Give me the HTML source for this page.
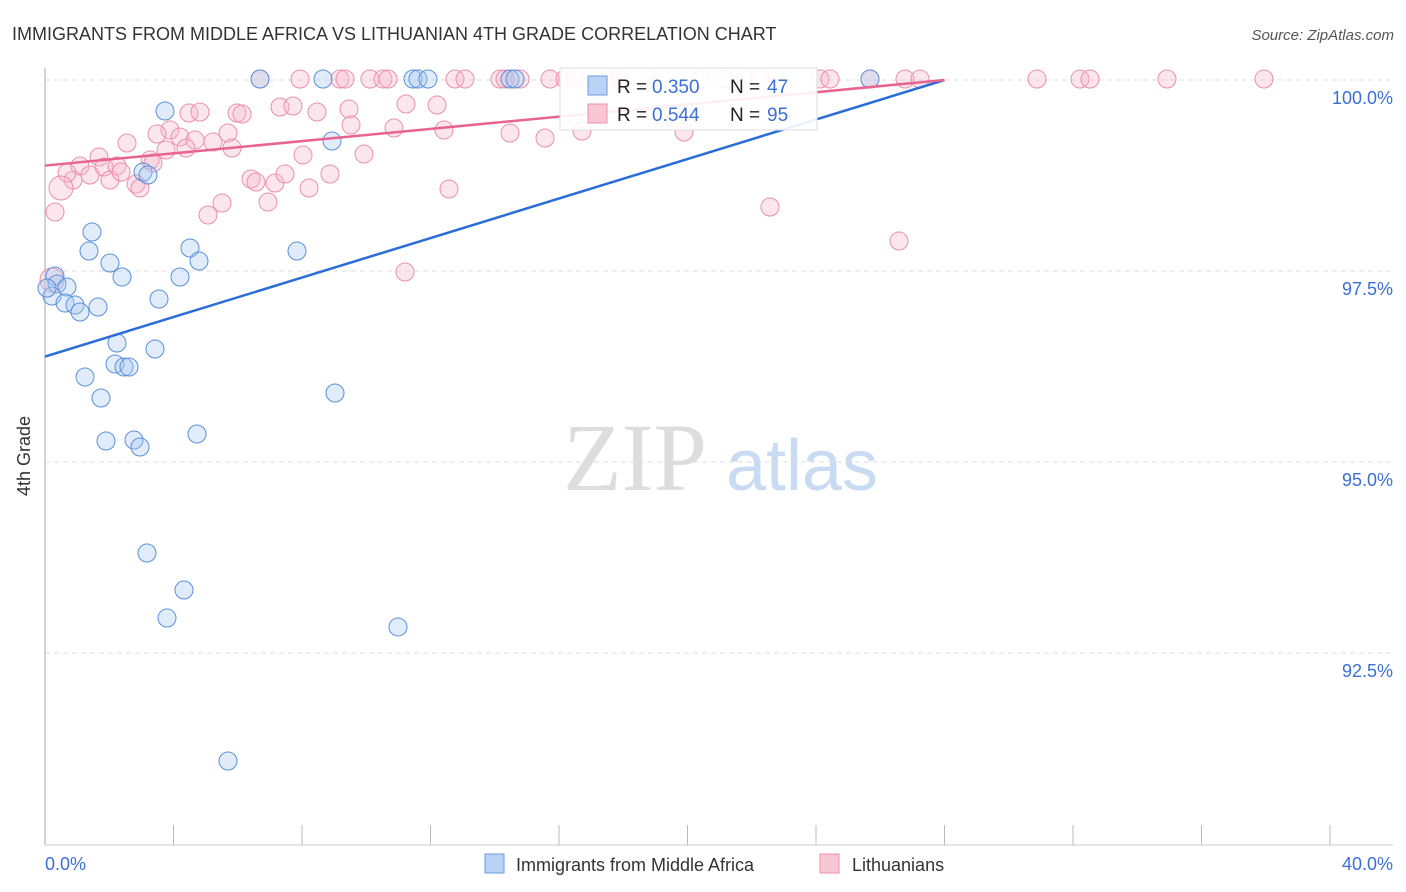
<!DOCTYPE html>
<html><head><meta charset="utf-8"><style>
body{margin:0;background:#fff;font-family:"Liberation Sans",sans-serif;}
svg{display:block}
</style></head><body>
<svg id="chart" width="1406" height="892">
<text x="12" y="40" font-size="18" fill="#333">IMMIGRANTS FROM MIDDLE AFRICA VS LITHUANIAN 4TH GRADE CORRELATION CHART</text>
<text x="1394" y="40" font-size="15" fill="#555" font-style="italic" text-anchor="end">Source: ZipAtlas.com</text>
<g>
<text x="635" y="490" font-size="96" fill="#ddd" font-family="Liberation Serif,serif" text-anchor="middle">ZIP</text>
<text x="802" y="490" font-size="72" fill="#c9dbf3" text-anchor="middle">atlas</text>
</g>
<g id="grid"></g>
<line x1="45" y1="68" x2="45" y2="845" stroke="#aaa"/>
<line x1="45" y1="845" x2="1393" y2="845" stroke="#ccc"/>
<text x="30" y="456" font-size="18" fill="#333" transform="rotate(-90 30 456)" text-anchor="middle">4th Grade</text>
<text x="45" y="870" font-size="18" fill="#3b6fd4">0.0%</text>
<text x="1393" y="870" font-size="18" fill="#3b6fd4" text-anchor="end">40.0%</text>
<g id="pts"></g>
<g id="lines"></g>
<g>
<rect x="560" y="68" width="257" height="62" fill="#fff" fill-opacity="0.9" stroke="#ddd"/>
<rect x="588" y="76" width="19" height="19" fill="#b9d2f5" stroke="#6a9de0"/>
<rect x="588" y="104" width="19" height="19" fill="#f9c6d6" stroke="#ec8fad"/>
<text y="93" font-size="19" fill="#222"><tspan x="617">R =</tspan><tspan x="652" fill="#3b6fd4">0.350</tspan><tspan x="730">N =</tspan><tspan x="767" fill="#3b6fd4">47</tspan></text>
<text y="121" font-size="19" fill="#222"><tspan x="617">R =</tspan><tspan x="652" fill="#3b6fd4">0.544</tspan><tspan x="730">N =</tspan><tspan x="767" fill="#3b6fd4">95</tspan></text>
</g>
<g>
<rect x="485" y="854" width="19" height="19" fill="#b9d2f5" stroke="#6a9de0"/>
<text x="516" y="871" font-size="18" fill="#333">Immigrants from Middle Africa</text>
<rect x="820" y="854" width="19" height="19" fill="#f9c6d6" stroke="#ec8fad"/>
<text x="852" y="871" font-size="18" fill="#333">Lithuanians</text>
</g>
</svg>
<script>
const yTicks=[100,97.5,95,92.5];
const yTickLabels=["100.0%","97.5%","95.0%","92.5%"];
const xTicks=[0,4,8,12,16,20,24,28,32,36,40];
const bluePx=[[260,79],[323,79],[413,79],[418,79],[428,79],[510,79],[515,79],[870,79],[165,111],[332,141],[143,172],[148,175],[92,232],[89,251],[110,263],[190,248],[199,261],[297,251],[122,277],[180,277],[55,276],[57,284],[67,287],[52,296],[65,303],[75,305],[80,312],[98,307],[159,299],[117,343],[155,349],[115,364],[124,367],[129,367],[85,377],[101,398],[335,393],[106,441],[134,440],[140,447],[197,434],[147,553],[184,590],[167,618],[398,627],[228,761],[47,288]];
const pinkPx=[[260,79],[300,79],[340,79],[345,79],[370,79],[383,79],[388,79],[455,79],[465,79],[500,79],[505,79],[520,79],[550,79],[565,79],[575,79],[610,79],[620,79],[650,79],[700,79],[725,79],[745,79],[760,79],[820,79],[830,79],[870,79],[905,79],[920,79],[1037,79],[1080,79],[1090,79],[1167,79],[1264,79],
[189,113],[200,112],[237,113],[242,114],[280,107],[293,106],[317,112],[349,109],[406,104],[437,105],[351,125],[394,128],[444,130],[510,133],[545,138],[582,131],[684,132],[170,130],[157,134],[180,137],[127,143],[195,140],[213,142],[228,133],[232,148],[166,150],[186,148],[303,155],[364,154],[150,160],[153,163],[99,157],[80,166],[104,167],[117,166],[90,175],[73,180],[67,173],[110,180],[121,172],[136,184],[140,188],[251,179],[256,182],[275,183],[285,174],[330,174],[309,188],[61,188],[55,212],[208,215],[222,203],[268,202],[449,189],[770,207],[899,241],[405,272],[52,280]];
const toData=p=>[(p[0]-45)/32.125,100-(p[1]-80)/76.4];
const blueX=bluePx.map(p=>toData(p)[0]), blueY=bluePx.map(p=>toData(p)[1]);
const pinkX=pinkPx.map(p=>toData(p)[0]), pinkY=pinkPx.map(p=>toData(p)[1]);
const blueTrend=[[0,96.38],[28,100]];
const pinkTrend=[[0,98.88],[28,100]];
const X=v=>45+v*32.125, Y=v=>80+(100-v)*76.4;
const NS="http://www.w3.org/2000/svg";
const grid=document.getElementById('grid');
yTicks.forEach((t,i)=>{
 const l=document.createElementNS(NS,'line');
 l.setAttribute('x1',45);l.setAttribute('x2',1393);l.setAttribute('y1',Y(t));l.setAttribute('y2',Y(t));
 l.setAttribute('stroke','#ddd');l.setAttribute('stroke-dasharray','5,4');
 
 
 grid.appendChild(l);
 const tx=document.createElementNS(NS,'text');
 tx.setAttribute('x',1393);tx.setAttribute('y',Y(t)+24);tx.setAttribute('text-anchor','end');
 tx.setAttribute('font-size','18');tx.setAttribute('fill','#3b6fd4');tx.textContent=yTickLabels[i];
 
 
 grid.appendChild(tx);
});
xTicks.forEach(t=>{
 const l=document.createElementNS(NS,'line');
 l.setAttribute('x1',X(t));l.setAttribute('x2',X(t));l.setAttribute('y1',825);l.setAttribute('y2',845);
 l.setAttribute('stroke','#bbb');
 
 
 grid.appendChild(l);
});
const pts=document.getElementById('pts');
function dot(x,y,r,fill,stroke,name){
 const c=document.createElementNS(NS,'circle');
 c.setAttribute('cx',X(x));c.setAttribute('cy',Y(y));c.setAttribute('r',r);
 c.setAttribute('fill',fill);c.setAttribute('fill-opacity','0.35');c.setAttribute('stroke',stroke);c.setAttribute('stroke-width','1');
 
 
 pts.appendChild(c);
}
pinkX.forEach((x,i)=>dot(x,pinkY[i],(i===pinkX.length-1||i===pinkX.length-10)?12:9,'#f7b6ca','#ec8fad','lithuanians-point'));
blueX.forEach((x,i)=>dot(x,blueY[i],9,'#a8c8f0','#5b90dc','immigrants-point'));
const lines=document.getElementById('lines');
[[blueTrend,'#2a6dd9','immigrants-trend-line'],[pinkTrend,'#e8648f','lithuanians-trend-line']].forEach(([t,c,n])=>{
 const l=document.createElementNS(NS,'line');
 l.setAttribute('x1',X(t[0][0]));l.setAttribute('y1',Y(t[0][1]));l.setAttribute('x2',X(t[1][0]));l.setAttribute('y2',Y(t[1][1]));
 l.setAttribute('stroke',c);l.setAttribute('stroke-width','2.5');
 
 
 lines.appendChild(l);
});
</script>
</body></html>
